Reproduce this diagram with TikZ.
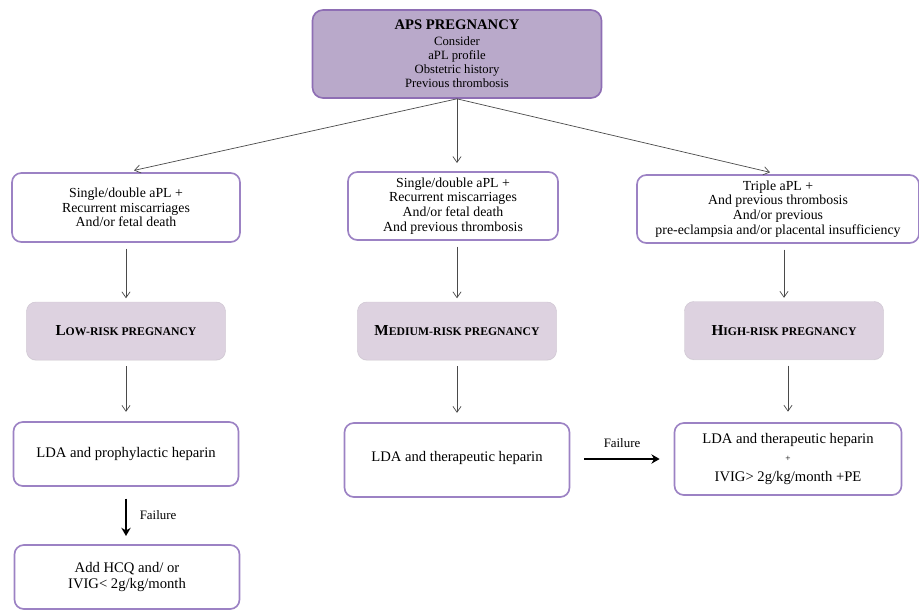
\documentclass[tikz,border=0pt]{standalone}
\usepackage{fontspec}
\setmainfont{Liberation Serif}
\usetikzlibrary{arrows.meta,shadows}

\definecolor{apsfill}{HTML}{B9A9CA}
\definecolor{apsedge}{HTML}{8E6EB4}
\definecolor{boxedge}{HTML}{9C82C4}
\definecolor{riskfill}{HTML}{DDD2E0}
\definecolor{linkgray}{HTML}{4A4A4A}

\newcommand{\riskname}[2]{\textbf{{\fontsize{13}{15}\selectfont #1}{\fontsize{10}{12}\selectfont #2}}}

\tikzset{
  softshadow/.style={drop shadow={opacity=0.18, shadow xshift=0pt, shadow yshift=-0.6pt}},
  apsbox/.style={draw=apsedge, line width=1.4pt, fill=apsfill, rounded corners=9pt,
    align=center, inner sep=0pt, softshadow, font=\fontsize{10.8}{12.2}\selectfont},
  critbox/.style={draw=boxedge, line width=1.4pt, fill=white, rounded corners=8pt,
    align=center, inner sep=0pt, softshadow, font=\fontsize{11.8}{12.6}\selectfont},
  txbox/.style={critbox, font=\fontsize{12.5}{14}\selectfont},
  riskbox/.style={draw=riskfill!85!gray, line width=0.4pt, fill=riskfill, rounded corners=8pt,
    align=center, inner sep=0pt, softshadow, minimum width=5.97cm, minimum height=1.74cm},
  link/.style={draw=linkgray, line width=0.6pt, -{Straight Barb[length=5pt,width=7pt]}},
  failarrow/.style={draw=black, line width=1.6pt, -{Stealth[length=7pt,width=8pt]}},
  faillabel/.style={font=\fontsize{11}{13}\selectfont, inner sep=1pt}
}

\begin{document}
\begin{tikzpicture}[x=0.03cm,y=-0.03cm]
\useasboundingbox (0,0) rectangle (919,610);

% top
\node[apsbox, minimum width=8.67cm, minimum height=2.64cm] (aps) at (457,54)
{{\fontsize{12.5}{14}\selectfont\textbf{APS PREGNANCY}}\\[1pt]Consider\\aPL profile\\Obstetric history\\Previous thrombosis};

% criteria
\node[critbox, minimum width=6.84cm, minimum height=2.07cm] (critlow) at (126,207.5)
{Single/double aPL +\\Recurrent miscarriages\\And/or fetal death};
\node[critbox, minimum width=6.3cm, minimum height=2.04cm] (critmed) at (453,206)
{Single/double aPL +\\Recurrent miscarriages\\And/or fetal death\\And previous thrombosis};
\node[critbox, minimum width=8.46cm, minimum height=2.04cm] (crithigh) at (778,209)
{Triple aPL +\\And previous thrombosis\\And/or previous\\pre-eclampsia and/or placental insufficiency};

% risk classes
\node[riskbox] (risklow) at (126,331) {\riskname{L}{OW-RISK PREGNANCY}};
\node[riskbox] (riskmed) at (457,331) {\riskname{M}{EDIUM-RISK PREGNANCY}};
\node[riskbox] (riskhigh) at (784,330.5) {\riskname{H}{IGH-RISK PREGNANCY}};

% treatment
\node[txbox, minimum width=6.75cm, minimum height=1.92cm] (txlow) at (126,454)
{LDA and prophylactic heparin};
\node[txbox, minimum width=6.75cm, minimum height=2.22cm] (txmed) at (457,460)
{\raisebox{6pt}{LDA and therapeutic heparin}};
\node[txbox, minimum width=6.81cm, minimum height=2.16cm] (txhigh) at (788,459)
{LDA and therapeutic heparin\\[1pt]{\fontsize{8}{10}\selectfont +}\\[3pt]IVIG> 2g/kg/month +PE};
\node[txbox, minimum width=6.75cm, minimum height=1.92cm] (txadd) at (127,577)
{Add HCQ and/ or\\IVIG< 2g/kg/month};

% links
\draw[link, shorten >=7pt] (aps.south) -- (critlow.north);
\draw[link, shorten >=7pt] (aps.south) -- (aps.south |- critmed.north);
\draw[link, shorten >=7pt] (aps.south) -- (crithigh.north);

\draw[link, shorten <=5pt, shorten >=3pt] (critlow.south) -- (risklow.north);
\draw[link, shorten <=5pt, shorten >=3pt] (riskmed.north |- critmed.south) -- (riskmed.north);
\draw[link, shorten <=5pt, shorten >=3pt] (riskhigh.north |- crithigh.south) -- (riskhigh.north);

\draw[link, shorten <=5pt, shorten >=8pt] (risklow.south) -- (txlow.north);
\draw[link, shorten <=5pt, shorten >=8pt] (riskmed.south) -- (txmed.north);
\draw[link, shorten <=5pt, shorten >=9pt] (txhigh.north |- riskhigh.south) -- (txhigh.north);

% failure
\draw[failarrow, shorten <=10pt, shorten >=7pt] (txlow.south) -- (txlow.south |- txadd.north)
  node[faillabel, midway, right=10pt] {Failure};
\draw[failarrow, shorten <=12pt, shorten >=12pt] (txmed.east |- txhigh.west) -- (txhigh.west)
  node[faillabel, midway, above=8pt] {Failure};
\end{tikzpicture}
\end{document}
